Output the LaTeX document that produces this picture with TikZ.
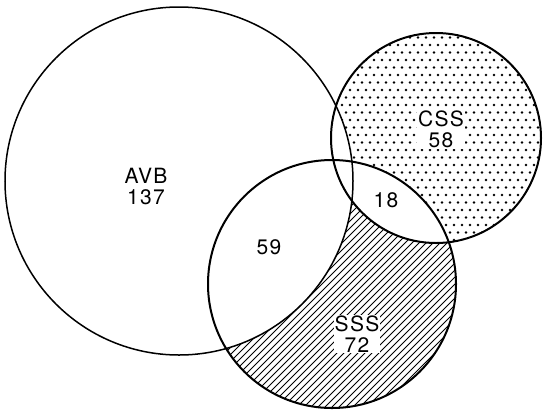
\documentclass[tikz,border=0pt]{standalone}
\usepackage{fontspec}
\setmainfont{TeX Gyre Heros}[LetterSpace=6]
\usetikzlibrary{positioning}
\tikzset{
  fig/.style={font=\fontsize{21}{21}\selectfont},
  ring/.style={line width=2pt},
  thinring/.style={line width=1.5pt},
  hatchln/.style={line width=0.8pt},
  lbl/.style={align=center,inner sep=1pt},
  lblw/.style={lbl,fill=white},
}

\begin{document}
\begin{tikzpicture}[fig,x=1pt,y=-1pt]
\useasboundingbox (0,0) rectangle (543,416);

\coordinate (avb) at (179,181);
\coordinate (css) at (436,138);
\coordinate (sss) at (332,284);

% dotted part of CSS
\begin{scope}
  \clip (css) circle (105pt);
  \foreach \j in {0,...,29}
    \foreach \i in {0,...,27}
      \fill ({326+8*\i+4*mod(\j,2)},{30+7.5*\j}) circle (1.3pt);
\end{scope}
\fill[white] (avb) circle (174pt);
\fill[white] (sss) circle (124pt);

% hatched part of SSS
\begin{scope}
  \clip (sss) circle (124pt);
  \foreach \i in {0,...,60}
    \draw[hatchln] ({60+7*\i},420) -- ++(280,-280);
  \fill[white] (avb) circle (174pt);
  \fill[white] (css) circle (105pt);
\end{scope}

\draw[thinring] (avb) circle (174pt);
\draw[ring] (css) circle (105pt);
\draw[ring] (sss) circle (124pt);

\node[lbl] (lavb) at (146,186) {AVB\\137};
\node[lblw] (lcss) at (441,129) {CSS\\58};
\node[lblw] (lsss) at (357,334) {SSS\\72};
\node[lbl] (l59) at (269,247) {59};
\node[lbl] (l18) at (386,200) {18};

\end{tikzpicture}
\end{document}
